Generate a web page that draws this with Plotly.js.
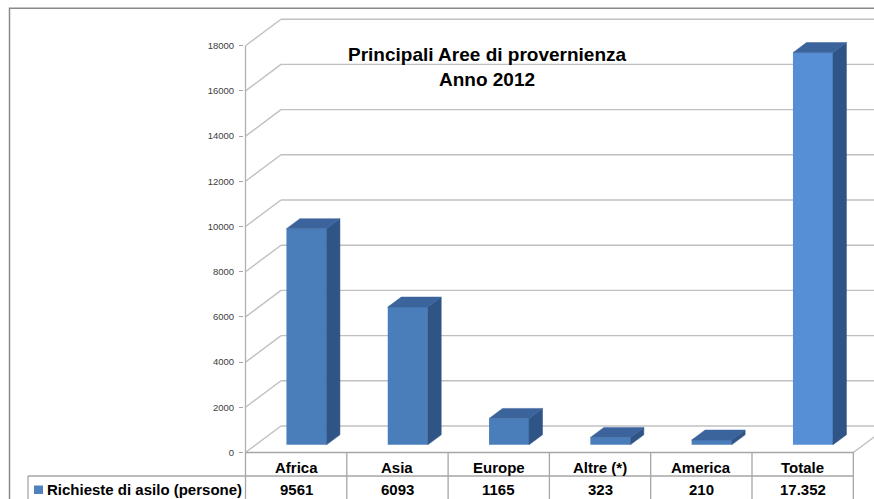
<!DOCTYPE html>
<html><head><meta charset="utf-8">
<script src="https://cdn.plot.ly/plotly-3.0.1.min.js"></script>
<style>html,body{margin:0;padding:0;background:#fff;}#chart{width:874px;height:499px;}</style>
</head><body><div id="chart"></div>
<script>
// ---- data ----
const categories = ['Africa', 'Asia', 'Europe', 'Altre (*)', 'America', 'Totale'];
const values = [9561, 6093, 1165, 323, 210, 17352];
const valueLabels = ['9561', '6093', '1165', '323', '210', '17.352'];
const seriesName = 'Richieste di asilo (persone)';
const yTickValues = [0, 2000, 4000, 6000, 8000, 10000, 12000, 14000, 16000, 18000];
const yTickLabels = ['0', '2000', '4000', '6000', '8000', '10000', '12000', '14000', '16000', '18000'];
const titleLines = ['Principali Aree di provernienza', 'Anno 2012'];

// ---- geometry / style ----
const W = 874, H = 499, ML = 244;
const FONT = 'Liberation Sans, Arial, Helvetica, sans-serif';
const colPx = 101.3;                 // pixel width of a category column
const leftPx = 245.5;                // pixel of the front-left corner
const xr0 = -0.5 - (leftPx - ML) / colPx;
const xr1 = xr0 + (W - ML) / colPx;
const y0px = 452.5, yTopPx = 45.7;
const upp = 18000 / (y0px - yTopPx); // axis units per pixel
const yMin = -(H - y0px) * upp, yMax = y0px * upp;
const DX = 35.5 / colPx, DY = 26.5 * upp;   // full depth of the 3D box
const f0 = 0.29, fd = 0.38, BW = 40 / colPx;
const barBase = f0 * DY, barOffset = -BW / 2 + f0 * DX;
const bdx = fd * DX, bdy = fd * DY;
const idx = categories.map((c, i) => i);
const frontColors = ['#4a7ebb', '#4a7ebb', '#4a7ebb', '#4a7ebb', '#4a7ebb', '#568fd6'];
const pxY = p => (y0px - p) * upp;
const paperX = p => (p - ML) / (W - ML);
const paperY = p => 1 - p / H;
const dataPaperX = xd => (xd - xr0) / (xr1 - xr0);

// side and top faces computed from the values
const sideX = [], sideY = [], topX = [], topY = [];
values.forEach((v, i) => {
  const xl = i + barOffset, xr = xl + BW, b = barBase, t = barBase + v;
  sideX.push(xr, xr, xr + bdx, xr + bdx, xr, null);
  sideY.push(b, t, t + bdy, b + bdy, b, null);
  topX.push(xl, xr, xr + bdx, xl + bdx, xl, null);
  topY.push(t, t, t + bdy, t + bdy, t, null);
});

const traces = [
  {type: 'bar', x: idx, y: values, base: barBase, width: BW, offset: barOffset, name: seriesName,
   marker: {color: frontColors, line: {width: 0}}, hoverinfo: 'skip', showlegend: false},
  {type: 'scatter', mode: 'lines', x: sideX, y: sideY, fill: 'toself', fillcolor: '#2f5587',
   line: {color: '#2f5587', width: 0.5}, hoverinfo: 'skip', showlegend: false},
  {type: 'scatter', mode: 'lines', x: topX, y: topY, fill: 'toself', fillcolor: '#3b639c',
   line: {color: '#3b639c', width: 0.5}, hoverinfo: 'skip', showlegend: false}
];

const shapes = [];
const gridColor = '#c0c0c0';
yTickValues.forEach(t => {
  shapes.push({type: 'line', xref: 'x', yref: 'y', layer: 'below', x0: -0.5, y0: t, x1: -0.5 + DX, y1: t + DY,
               line: {color: gridColor, width: 1.4}});
  shapes.push({type: 'line', xref: 'x', yref: 'y', layer: 'below', x0: -0.5 + DX, y0: t + DY, x1: xr1, y1: t + DY,
               line: {color: gridColor, width: 1.4}});
});
// front-left axis edge
shapes.push({type: 'line', xref: 'x', yref: 'y', layer: 'below', x0: -0.5, y0: 0, x1: -0.5, y1: yTickValues[yTickValues.length - 1],
             line: {color: '#b0b0b0', width: 1.3}});
// floor right diagonal
shapes.push({type: 'line', xref: 'x', yref: 'y', layer: 'below', x0: categories.length - 0.5, y0: 0,
             x1: categories.length - 0.5 + DX, y1: DY, line: {color: gridColor, width: 1.4}});
// data table
const tblColor = '#a6a6a6';
const rowPx = 476;
shapes.push({type: 'line', xref: 'paper', yref: 'paper', x0: dataPaperX(-0.5), x1: dataPaperX(categories.length - 0.5),
             y0: paperY(y0px), y1: paperY(y0px), line: {color: tblColor, width: 1.3}});
shapes.push({type: 'line', xref: 'paper', yref: 'paper', x0: paperX(28), x1: dataPaperX(categories.length - 0.5),
             y0: paperY(rowPx), y1: paperY(rowPx), line: {color: tblColor, width: 1.3}});
shapes.push({type: 'line', xref: 'paper', yref: 'paper', x0: paperX(28), x1: paperX(28),
             y0: paperY(rowPx), y1: -0.05, line: {color: tblColor, width: 1.3}});
for (let k = 0; k <= categories.length; k++) {
  const xp = dataPaperX(k - 0.5);
  shapes.push({type: 'line', xref: 'paper', yref: 'paper', x0: xp, x1: xp, y0: paperY(y0px), y1: -0.05,
               line: {color: tblColor, width: 1.3}});
}
// legend key
shapes.push({type: 'rect', xref: 'paper', yref: 'paper', x0: paperX(34), x1: paperX(43), y0: paperY(494), y1: paperY(485.5),
             fillcolor: '#4f81bd', line: {width: 0}});
// outer chart border
shapes.push({type: 'rect', xref: 'paper', yref: 'paper', x0: paperX(9.5), x1: 1.05, y0: -0.05, y1: paperY(8.3),
             line: {color: '#8a8a8a', width: 1.5}});

const annotations = [];
categories.forEach((c, i) => {
  annotations.push({xref: 'x', yref: 'y', x: i, y: pxY(467.5), text: '<b>' + c + '</b>', showarrow: false,
                    font: {family: FONT, size: 15, color: '#000'}});
  annotations.push({xref: 'x', yref: 'y', x: i, y: pxY(489.5), text: '<b>' + valueLabels[i] + '</b>', showarrow: false,
                    font: {family: FONT, size: 15, color: '#000'}});
});
annotations.push({xref: 'paper', yref: 'y', x: paperX(44.5), xanchor: 'left', y: pxY(489.5), text: '<b>' + seriesName + '</b>',
                  showarrow: false, font: {family: FONT, size: 15, color: '#000'}});
annotations.push({xref: 'paper', yref: 'paper', x: paperX(487), y: paperY(67.5), xanchor: 'center', yanchor: 'middle',
                  text: titleLines.map(s => '<b>' + s + '</b>').join('<br>'), showarrow: false,
                  font: {family: FONT, size: 19, color: '#000'}});

const layout = {
  width: W, height: H,
  margin: {l: ML, r: 0, t: 0, b: 0, pad: 0},
  paper_bgcolor: '#fff', plot_bgcolor: 'rgba(0,0,0,0)',
  showlegend: false,
  xaxis: {range: [xr0, xr1], visible: false, fixedrange: true},
  yaxis: {range: [yMin, yMax], tickvals: yTickValues, ticktext: yTickLabels, ticks: 'outside', ticklen: 4,
          tickwidth: 1, tickcolor: '#a6a6a6', ticklabelstandoff: 3, showgrid: false, zeroline: false, showline: false,
          tickfont: {family: FONT, size: 9.5, color: '#404040'}, fixedrange: true},
  shapes: shapes,
  annotations: annotations
};
Plotly.newPlot('chart', traces, layout, {staticPlot: true, displayModeBar: false});
</script>
</body></html>
